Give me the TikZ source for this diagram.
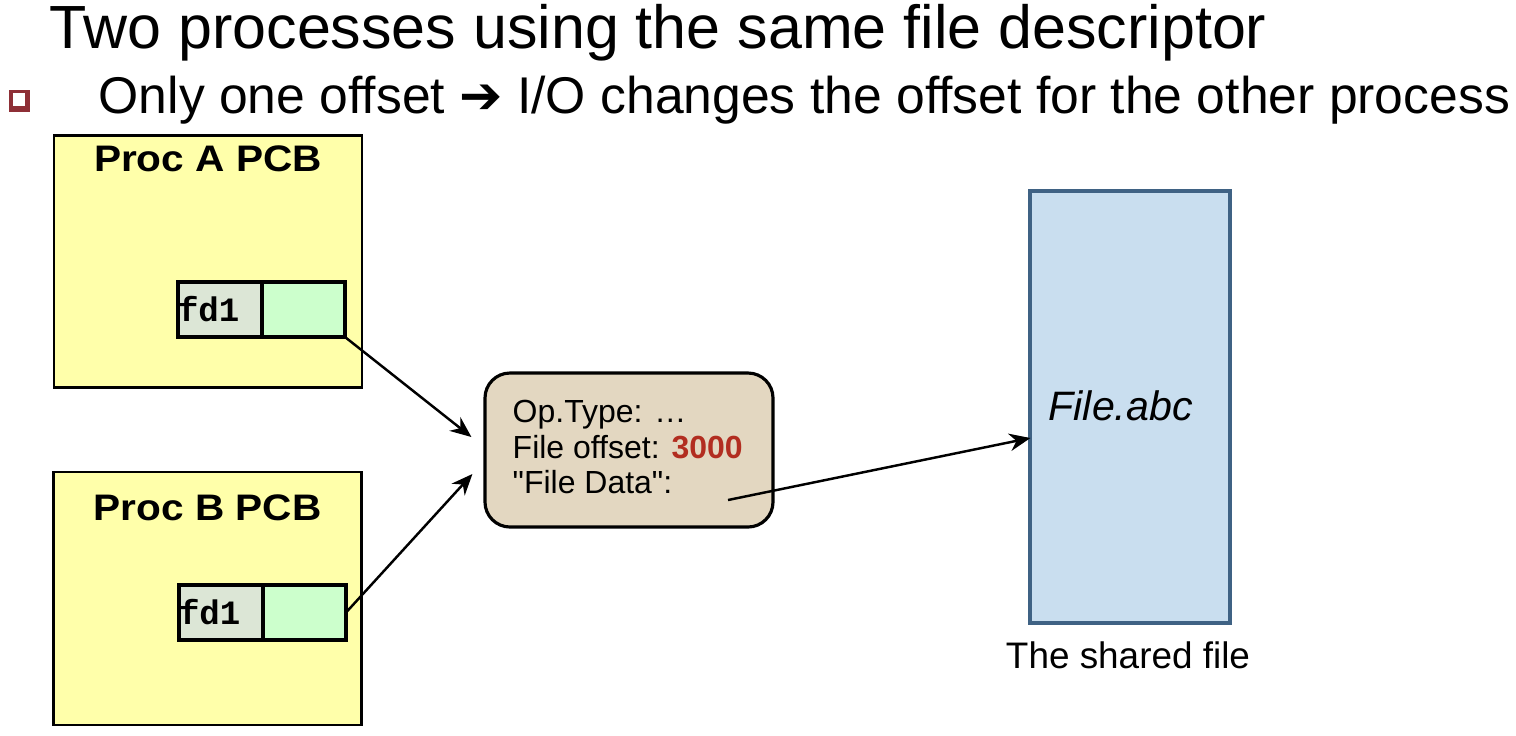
\documentclass[tikz,border=0pt]{standalone}
\usepackage{fontspec}
\setmainfont{Liberation Sans}[Ligatures=TeXOff]
\setmonofont{Liberation Mono}
\newfontfamily\symfont{DejaVu Sans}
\usepackage{xcolor}
\usetikzlibrary{arrows.meta, calc, positioning}

\definecolor{pcbyellow}{HTML}{FFFFAA}
\definecolor{fdgray}{HTML}{DCE6D6}
\definecolor{ptrgreen}{HTML}{CCFFCC}
\definecolor{entrytan}{HTML}{E3D7C1}
\definecolor{offsetred}{HTML}{B22D20}
\definecolor{fileblue}{HTML}{C9DEEF}
\definecolor{fileedge}{HTML}{3F6284}
\definecolor{bulletred}{HTML}{8E2F36}

\newcommand{\wide}[1]{\scalebox{1.1}[1]{#1}}

\begin{document}
\begin{tikzpicture}[
    pcb/.style={draw, line width=0.6pt, fill=pcbyellow, minimum width=3.08cm, minimum height=2.52cm, inner sep=0, outer sep=0},
    pcbtitle/.style={anchor=base, inner sep=0, font=\bfseries\fontsize{10.5}{12.6}\selectfont},
    fdcell/.style={draw, line width=0.9pt, fill=fdgray, minimum width=0.84cm, minimum height=0.55cm, inner sep=0, outer sep=0,
        text width=0.84cm, align=left, font=\ttfamily\bfseries\fontsize{9.7}{11}\selectfont},
    ptrcell/.style={draw, line width=0.9pt, fill=ptrgreen, minimum width=0.83cm, minimum height=0.55cm, inner sep=0, outer sep=0},
    link/.style={-{Stealth[length=6pt, width=5pt]}, line width=0.7pt}
]
\useasboundingbox (0,0) rectangle (15.16,-7.35);

% Heading
\node[anchor=base west, inner sep=0, font=\fontsize{17.35}{20}\selectfont] (title) at (0.49,-0.48)
    {Two processes using the same file descriptor};
\fill[bulletred] (0.09,-0.90) rectangle (0.30,-1.12);
\filldraw[fill=white, draw=bulletred, line width=0.3pt] (0.12,-0.92) rectangle (0.26,-1.07);
\node[anchor=base west, inner sep=0, font=\fontsize{14.7}{17}\selectfont] (point) at (0.98,-1.13)
    {Only one offset {\symfont ➔} I/O changes the offset for the other process};

% Process control blocks
\node[pcb] (procA) at (2.08,-2.615) {};
\node[pcbtitle] (titleA) at ($(procA.north)+(0,-0.36)$) {\wide{Proc A PCB}};
\node[fdcell] (fdA) at (2.20,-3.095) {fd1};
\node[ptrcell, right=0pt of fdA] (ptrA) {};

\node[pcb, minimum height=2.53cm] (procB) at (2.075,-5.985) {};
\node[pcbtitle] (titleB) at ($(procB.north)+(0,-0.48)$) {\wide{Proc B PCB}};
\node[fdcell] (fdB) at (2.21,-6.125) {fd1};
\node[ptrcell, right=0pt of fdB] (ptrB) {};

% Open file entry
\node[draw, line width=0.9pt, fill=entrytan, rounded corners=0.25cm, minimum width=2.88cm, minimum height=1.54cm] (entry) at (6.29,-4.50) {};
\node[anchor=west, inner sep=0, align=left, font=\fontsize{9.1}{10}\selectfont] (fields) at (5.12,-4.47)
    {Op.Type: …\\File offset: \textcolor{offsetred}{\bfseries 3000}\\"File Data":};

% Shared file
\node[draw=fileedge, line width=0.9pt, fill=fileblue, minimum width=2.0cm, minimum height=4.32cm] (file) at (11.30,-4.07) {};
\node[anchor=base west, inner sep=0, font=\itshape\fontsize{11.7}{14}\selectfont] (fname) at (10.48,-4.20) {File.abc};
\node[anchor=base, inner sep=0, font=\fontsize{10.5}{12.6}\selectfont] (shared) at (11.28,-6.68) {The shared file};

% Pointers
\coordinate (dataEnd) at (7.28,-5.00);
\draw[link] (ptrA.south east) -- ($(entry.west)+(-0.12,0.13)$);
\draw[link] (ptrB.east) -- ($(entry.west)+(-0.11,-0.24)$);
\draw[link] (dataEnd) -- ($(file.west)+(0.02,-0.31)$);
\end{tikzpicture}
\end{document}
